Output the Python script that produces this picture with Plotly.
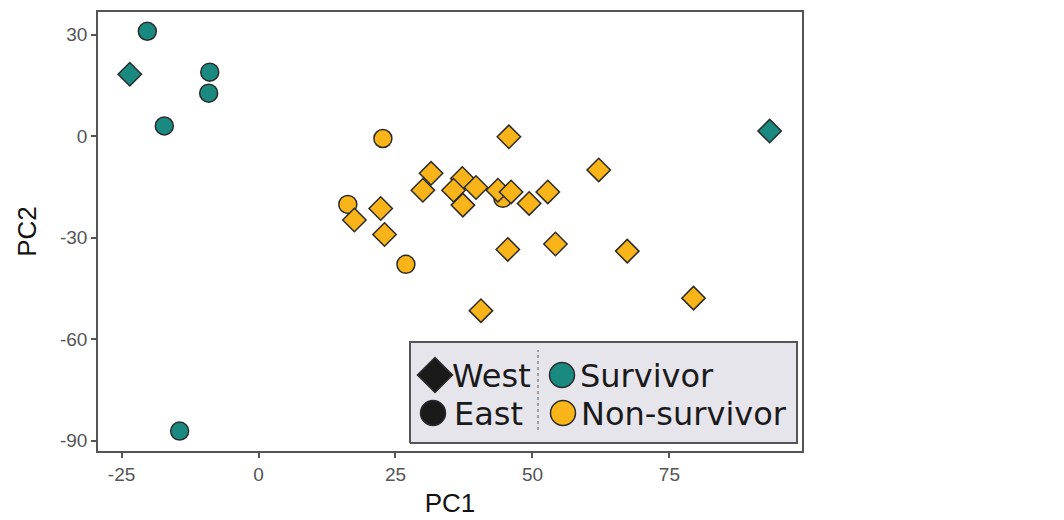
import plotly.graph_objects as go

# ---- data ----
surv_west_x = [-23.5, 93.3]
surv_west_y = [18.3, 1.5]
surv_east_x = [-20.3, -8.9, -9.1, -17.2, -14.4]
surv_east_y = [31.0, 18.9, 12.7, 3.0, -87.2]

non_east_x = [22.7, 16.3, 26.9, 44.6]
non_east_y = [-0.7, -20.2, -37.9, -18.4]
non_west_x = [45.7, 31.5, 30.0, 37.2, 35.6, 39.7, 37.3, 43.7, 46.1, 49.4,
              52.8, 17.5, 22.3, 23.0, 45.5, 54.2, 40.6, 62.1, 67.3, 79.4]
non_west_y = [-0.2, -11.0, -16.0, -12.5, -16.0, -15.2, -20.4, -16.0, -16.5, -19.9,
              -16.5, -24.8, -21.4, -29.1, -33.5, -31.9, -51.6, -10.0, -34.0, -47.9]

x_ticks = [-25, 0, 25, 50, 75]
x_tick_labels = ["-25", "0", "25", "50", "75"]
y_ticks = [30, 0, -30, -60, -90]
y_tick_labels = ["30", "0", "-30", "-60", "-90"]

TEAL = "#1a8a80"
ORANGE = "#f8b418"
EDGE = "#2b2b2b"

fig = go.Figure()

def pts(x, y, color, symbol):
    fig.add_trace(go.Scatter(
        x=x, y=y, mode="markers", showlegend=False, hoverinfo="skip",
        marker=dict(color=color, symbol=symbol, size=18,
                    line=dict(color=EDGE, width=1.5))))

pts(surv_east_x, surv_east_y, TEAL, "circle")
pts(non_east_x, non_east_y, ORANGE, "circle")
pts(surv_west_x, surv_west_y, TEAL, "diamond")
pts(non_west_x, non_west_y, ORANGE, "diamond")

# ---- custom legend on an overlay pixel axis ----
L, R, T, B = 98, 262, 12, 69
W, H = 1064 - L - R, 520 - T - B

# legend box (drawn as a filled trace so it sits under the legend symbols)
fig.add_trace(go.Scatter(
    x=[312, 699, 699, 312, 312], y=[8, 8, 109, 109, 8], xaxis="x2", yaxis="y2",
    mode="lines", fill="toself", fillcolor="#e6e5ec",
    line=dict(color="#555555", width=2), showlegend=False, hoverinfo="skip"))
fig.add_trace(go.Scatter(
    x=[440, 440], y=[21, 101], xaxis="x2", yaxis="y2", mode="lines",
    line=dict(color="#555555", width=1, dash="dot"), showlegend=False, hoverinfo="skip"))

leg_sym_x = [337, 335, 464, 465]
leg_sym_y = [76, 38, 76, 38]
leg_sym = ["diamond", "circle", "circle", "circle"]
leg_col = ["#1a1a1a", "#1a1a1a", TEAL, ORANGE]
leg_size = [27, 25, 25, 25]
fig.add_trace(go.Scatter(
    x=leg_sym_x, y=leg_sym_y, xaxis="x2", yaxis="y2", mode="markers",
    showlegend=False, hoverinfo="skip",
    marker=dict(symbol=leg_sym, color=leg_col, size=leg_size, opacity=1,
                line=dict(color=EDGE, width=1.5))))

leg_text = ["West", "East", "Survivor", "Non-survivor"]
leg_tx = [352, 354, 480, 481]
leg_ty = [75, 37, 75, 37]
for t, x, y in zip(leg_text, leg_tx, leg_ty):
    fig.add_annotation(x=x, y=y, xref="x2", yref="y2", text=t, showarrow=False,
                       xanchor="left", yanchor="middle",
                       font=dict(family="DejaVu Sans", size=32, color="#1a1a1a"))

axis_common = dict(showgrid=False, zeroline=False, showline=True, mirror=True,
                   linecolor="#555555", linewidth=1.5, ticks="outside", ticklen=5,
                   tickwidth=1.5, tickcolor="#555555", automargin=False,
                   tickfont=dict(family="Liberation Sans", size=19, color="#555555"),
                   title_font=dict(family="Liberation Sans", size=26, color="#111111"))

fig.update_layout(
    width=1064, height=520,
    margin=dict(l=L, r=R, t=T, b=B),
    plot_bgcolor="white", paper_bgcolor="white",
    xaxis=dict(range=[-29.3, 99.2], tickvals=x_ticks, ticktext=x_tick_labels,
               title_text="PC1", title_standoff=10, **axis_common),
    yaxis=dict(range=[-93.1, 36.7], tickvals=y_ticks, ticktext=y_tick_labels,
               title_text="PC2", title_standoff=16, **axis_common),
    xaxis2=dict(range=[0, W], overlaying="x", visible=False, fixedrange=True),
    yaxis2=dict(range=[0, H], overlaying="y", visible=False, fixedrange=True),
)

fig.write_html("out.html")
